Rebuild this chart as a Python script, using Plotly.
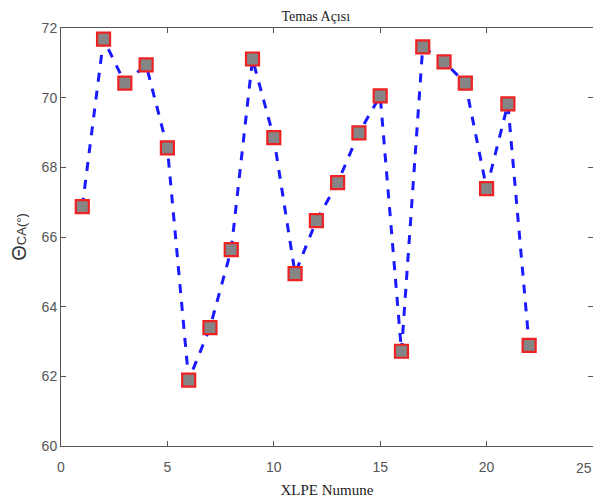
import plotly.graph_objects as go

samples = list(range(1, 23))
contact_angle = [66.87, 71.68, 70.42, 70.94, 68.56, 61.89, 63.40, 65.64, 71.11, 68.85, 64.95,
                 66.47, 67.56, 68.99, 70.05, 62.72, 71.46, 71.03, 70.42, 67.39, 69.82, 62.89]
x_ticks = [0, 5, 10, 15, 20, 25]
x_tick_labels = ["0", "5", "10", "15", "20", ""]
last_x_label = "25"
y_ticks = [60, 62, 64, 66, 68, 70, 72]

fig = go.Figure()
fig.add_trace(go.Scatter(
    x=samples, y=contact_angle, mode="lines+markers",
    line=dict(color="#1a1aff", width=3, dash="dash"),
    marker=dict(symbol="square", size=13, color="#858585",
                line=dict(color="#ee2222", width=2.2)),
    showlegend=False,
))

tick_font = dict(family="Liberation Sans, Arial", size=14, color="#555555")
axis_common = dict(showline=True, linecolor="#555555", linewidth=1, mirror="ticks",
                   ticks="inside", ticklen=5, tickcolor="#555555",
                   showgrid=False, zeroline=False, automargin=False,
                   tickfont=tick_font)

fig.update_layout(
    width=593, height=490,
    margin=dict(l=53, r=8, t=20, b=52),
    paper_bgcolor="white", plot_bgcolor="white",
    title=dict(text="Temas Açısı", x=0.519, xanchor="center", y=0.984, yanchor="middle",
               font=dict(family="Liberation Serif, Times New Roman", size=14, color="#222222")),
    xaxis=dict(range=[0, 25], tickvals=x_ticks, ticktext=x_tick_labels, ticklabelstandoff=8,
               title=dict(text="XLPE Numune", standoff=14,
                          font=dict(family="Liberation Serif, Times New Roman", size=15, color="#222222")),
               **axis_common),
    yaxis=dict(range=[60, 72], tickvals=y_ticks,
               title=dict(text="<span style='font-size:20px'>Θ</span>CA(°)", standoff=16,
                          font=dict(family="Liberation Sans, Arial", size=13, color="#333333")),
               **axis_common),
)
fig.add_annotation(x=x_ticks[-1], xref="x", y=0, yref="paper", text=last_x_label,
                   showarrow=False, xanchor="right", yanchor="middle", xshift=1, yshift=-22,
                   font=tick_font)

fig.write_html("out.html")
